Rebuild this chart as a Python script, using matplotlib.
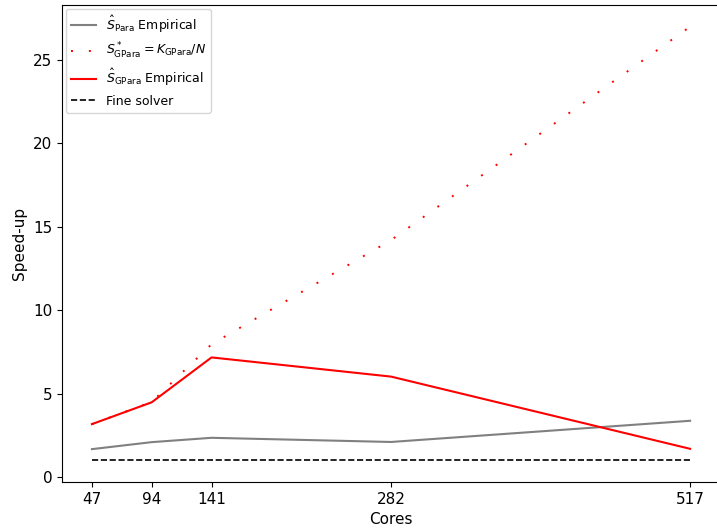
import matplotlib
matplotlib.use("Agg")
import matplotlib.pyplot as plt

CORES = [47, 94, 141, 282, 517]
PARA_EMPIRICAL = [1.67, 2.09, 2.35, 2.10, 3.37]
GPARA_THEORY = [3.17, 4.50, 7.96, 14.20, 27.00]
GPARA_EMPIRICAL = [3.17, 4.48, 7.17, 6.02, 1.69]
FINE_SOLVER = [1.0, 1.0, 1.0, 1.0, 1.0]


def main() -> None:
    fig = plt.figure(figsize=(7.17, 5.31), dpi=100)
    ax = fig.add_axes([62 / 717, 49 / 531, 658 / 717, 477 / 531])

    ax.plot(CORES, PARA_EMPIRICAL, color="grey", linewidth=1.5,
            label=r"$\hat{S}_{\mathrm{Para}}$ Empirical")
    # sparse dots, spacing
    ax.plot(CORES, GPARA_THEORY, color="red", linewidth=1.4,
            linestyle=(0, (1, 8.2)),
            label=r"$S^*_{\mathrm{GPara}} = K_{\mathrm{GPara}}/N$")
    ax.plot(CORES, GPARA_EMPIRICAL, color="red", linewidth=1.5,
            label=r"$\hat{S}_{\mathrm{GPara}}$ Empirical")
    ax.plot(CORES, FINE_SOLVER, color="black", linestyle="--", linewidth=1.2,
            label="Fine solver")

    ax.set_xticks(CORES)
    ax.set_xlabel("Cores", fontsize=11)
    ax.set_ylabel("Speed-up", fontsize=11)
    ax.tick_params(labelsize=11)
    ax.legend(loc="upper left", fontsize=9, borderaxespad=0.3)

    fig.savefig("out.png", dpi=100)
    plt.close(fig)


if __name__ == "__main__":
    main()
